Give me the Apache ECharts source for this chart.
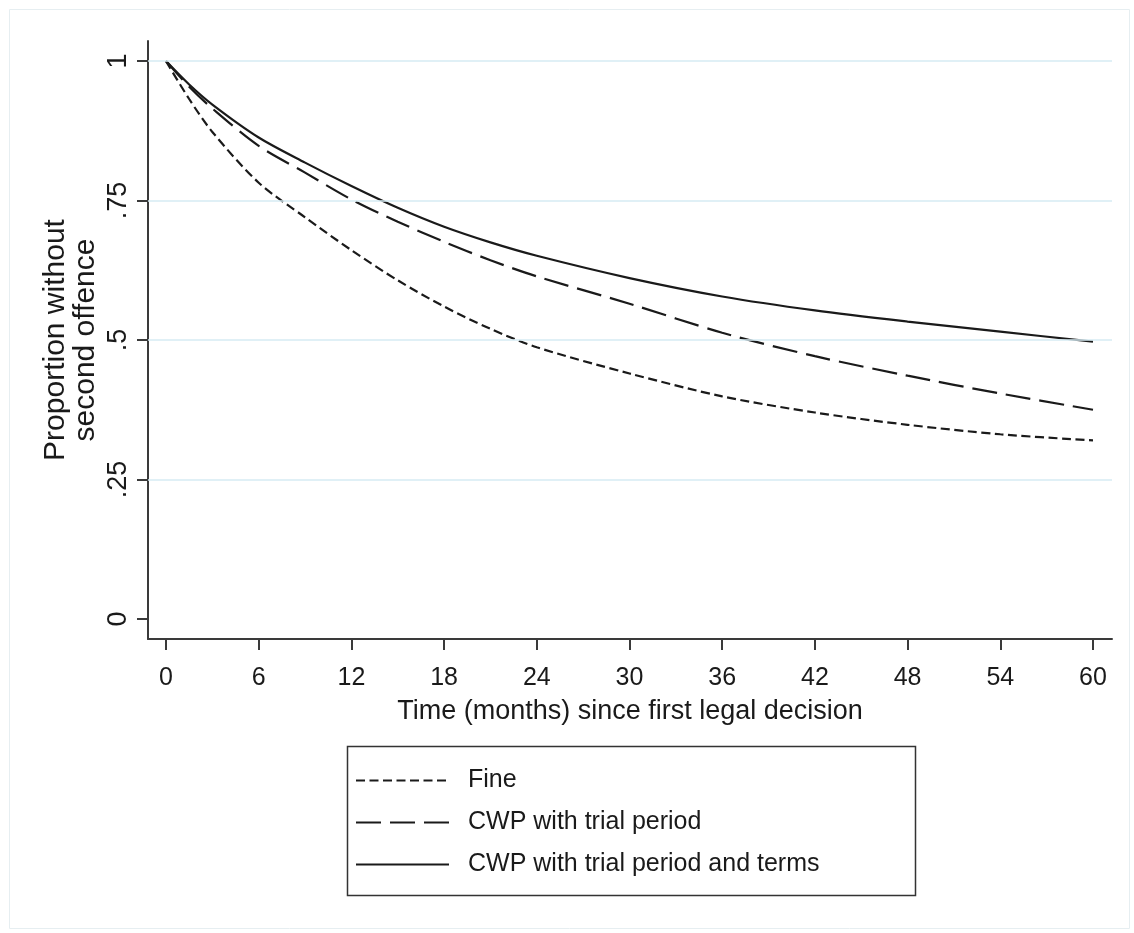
<!DOCTYPE html>
<html>
<head>
<meta charset="utf-8">
<title>Proportion without second offence</title>
<script src="https://cdn.jsdelivr.net/npm/echarts@6/dist/echarts.min.js"></script>
<style>
  html, body { margin: 0; padding: 0; background: #ffffff; }
  #chart { width: 1134px; height: 933px; }
</style>
</head>
<body>
<div id="chart"></div>
<script>
  // months since first legal decision
  const months = [0, 1.5, 3, 6, 9, 12, 15, 18, 21, 24, 30, 36, 42, 48, 54, 60]
  const fine = [1, 0.932, 0.873, 0.782, 0.72, 0.661, 0.607, 0.56, 0.52, 0.487, 0.44, 0.399, 0.37, 0.348, 0.331, 0.32]
  const cwpTrial = [1, 0.954, 0.915, 0.848, 0.8, 0.752, 0.712, 0.676, 0.643, 0.614, 0.565, 0.513, 0.471, 0.436, 0.404, 0.375]
  const cwpTerms = [1, 0.958, 0.922, 0.863, 0.818, 0.776, 0.737, 0.703, 0.675, 0.651, 0.611, 0.578, 0.553, 0.533, 0.515, 0.497]

  const xTicks = [0, 6, 12, 18, 24, 30, 36, 42, 48, 54, 60]
  const yTicks = [0, 0.25, 0.5, 0.75, 1]
  const yTickLabels = ['0', '.25', '.5', '.75', '1']
  const gridValues = [0.25, 0.5, 0.75, 1]

  const font = "'Liberation Sans', Arial, sans-serif"
  const ink = '#1a1a1a'
  const axisColor = '#3a3a3a'

  const pairs = (ys) => months.map((m, i) => [m, ys[i]])

  const lineSeries = (name, ys, dash) => ({
    name: name,
    type: 'line',
    data: pairs(ys),
    smooth: 0.3,
    symbol: 'none',
    z: 3,
    lineStyle: { color: ink, width: 2.2, type: dash },
    itemStyle: { color: ink },
  })

  const myChart = echarts.init(document.getElementById('chart'))

  const option = {
    animation: false,
    backgroundColor: '#ffffff',
    textStyle: { fontFamily: font },
    grid: {
      left: 148,
      right: 22,
      top: 41,
      bottom: 294,
      outerBoundsMode: 'none',
    },
    xAxis: {
      type: 'value',
      min: -1.165,
      max: 61.23,
      axisLine: { onZero: false, lineStyle: { color: axisColor, width: 2 } },
      axisTick: {
        customValues: xTicks,
        length: 11,
        lineStyle: { color: axisColor, width: 2 },
      },
      axisLabel: {
        customValues: xTicks,
        fontSize: 25,
        lineHeight: 25,
        color: ink,
        margin: 27,
        fontFamily: font,
      },
      splitLine: { show: false },
      name: 'Time (months) since first legal decision',
      nameLocation: 'middle',
      nameGap: 59,
      nameMoveOverlap: false,
      nameTextStyle: { fontSize: 27, lineHeight: 27, color: ink, fontFamily: font },
    },
    yAxis: {
      type: 'value',
      min: -0.036,
      max: 1.036,
      axisLine: { show: true, onZero: false, lineStyle: { color: axisColor, width: 2 } },
      axisTick: {
        show: true,
        customValues: yTicks,
        length: 11,
        lineStyle: { color: axisColor, width: 2 },
      },
      axisLabel: {
        customValues: yTicks,
        rotate: 90,
        fontSize: 27,
        lineHeight: 27,
        color: ink,
        margin: 16,
        fontFamily: font,
        formatter: (v) => {
          const i = yTicks.findIndex((t) => Math.abs(t - v) < 1e-6)
          return i >= 0 ? yTickLabels[i] : ''
        },
      },
      splitLine: { show: false },
      name: 'Proportion without\nsecond offence',
      nameLocation: 'middle',
      nameRotate: 90,
      nameGap: 47,
      nameMoveOverlap: false,
      nameTextStyle: { fontSize: 30, lineHeight: 30, color: ink, fontFamily: font, align: 'center' },
    },
    legend: {
      data: ['Fine', 'CWP with trial period', 'CWP with trial period and terms'],
      orient: 'vertical',
      left: 355,
      top: 768,
      padding: 0,
      itemWidth: 93,
      itemHeight: 25,
      itemGap: 17,
      selectedMode: false,
      itemStyle: { opacity: 0 },
      textStyle: { fontSize: 25, color: ink, fontFamily: font, padding: [0, 0, 0, 14] },
    },
    graphic: [
      {
        type: 'rect',
        left: 7,
        top: 7,
        shape: { width: 1120, height: 919 },
        style: { fill: 'none', stroke: '#e6eef1', lineWidth: 1 },
        silent: true,
      },
      {
        type: 'rect',
        left: 345,
        top: 744,
        shape: { width: 568, height: 149 },
        style: { fill: 'none', stroke: '#333333', lineWidth: 1.5 },
        silent: true,
      },
    ],
    series: [
      {
        name: 'grid',
        type: 'line',
        data: [],
        z: 1,
        markLine: {
          silent: true,
          symbol: 'none',
          label: { show: false },
          lineStyle: { color: '#d6ebf3', width: 1.5, type: 'solid' },
          data: gridValues.map((v) => ({ yAxis: v })),
        },
      },
      lineSeries('Fine', fine, [9, 4.5]),
      lineSeries('CWP with trial period', cwpTrial, [25, 9]),
      lineSeries('CWP with trial period and terms', cwpTerms, 'solid'),
    ],
  }

  myChart.setOption(option)
</script>
</body>
</html>
